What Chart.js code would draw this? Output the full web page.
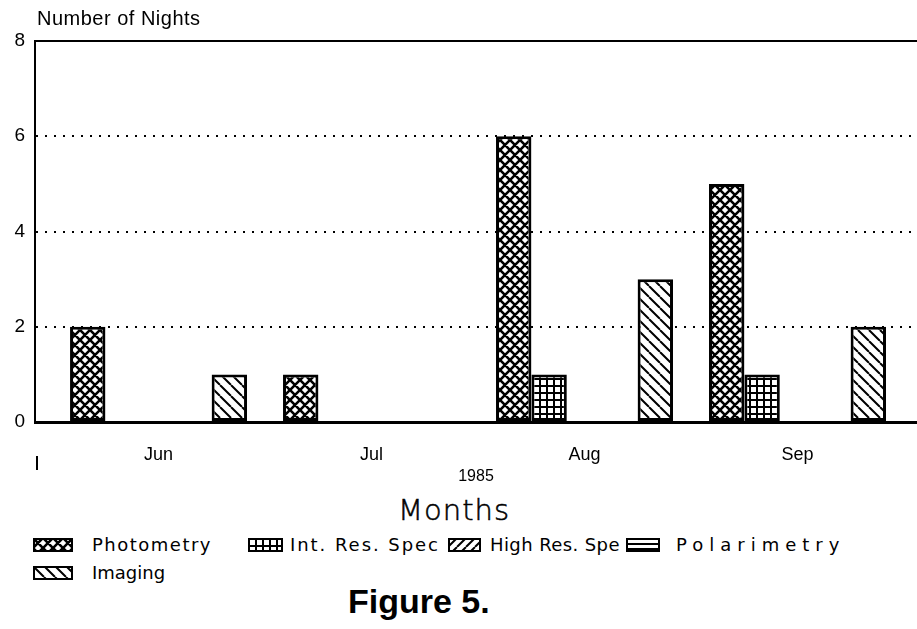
<!DOCTYPE html>
<html>
<head>
<meta charset="utf-8">
<script src="https://cdn.jsdelivr.net/npm/chart.js@4.4.0/dist/chart.umd.min.js"></script>
<style>
body{margin:0;background:#fff;width:917px;height:629px;overflow:hidden;position:relative;font-family:'Liberation Sans',Arial,sans-serif;color:#000}
#wrap{position:absolute;left:0;top:0;width:917px;height:486px}
.t{position:absolute;white-space:nowrap;line-height:1}
.sw{position:absolute}
</style>
</head>
<body>
<div id="wrap"><canvas id="myChart"></canvas></div>
<div class="t" style="left:37px;top:8px;font-size:20px;letter-spacing:0.5px">Number of Nights</div>
<div class="t" style="left:36px;top:456px;width:2px;height:14px;background:#000"></div>
<div class="t" style="left:398px;top:496px;font-family:'DejaVu Sans';font-weight:200;font-size:29px;letter-spacing:1px;-webkit-text-stroke:0.5px #000">Months</div>
<div id="legend"></div>
<div class="t" style="left:348px;top:584px;font-size:34px;font-weight:bold">Figure 5.</div>
<script>
var months = ['Jun', 'Jul', 'Aug', 'Sep'];
var seriesNames = ['Photometry', 'Int. Res. Spec', 'High Res. Spe', 'Polarimetry', 'Imaging'];
var photometry = [2, 1, 6, 5];
var intResSpec = [0, 0, 1, 1];
var highResSpec = [0, 0, 0, 0];
var polarimetry = [0, 0, 0, 0];
var imaging = [1, 0, 3, 2];
var yTicks = [0, 2, 4, 6, 8];

// hatch fills, drawn on a small tile
function makePattern(kind) {
  var s = {cross: 10, grid: 7, fwd: 9, horiz: 5, back: 11}[kind];
  var c = document.createElement('canvas');
  c.width = s; c.height = s;
  var g = c.getContext('2d');
  g.fillStyle = '#fff';
  g.fillRect(0, 0, s, s);
  g.strokeStyle = '#000';
  g.lineWidth = kind == 'cross' ? 2.6 : 2;
  g.beginPath();
  if (kind == 'grid') { g.moveTo(0, 1); g.lineTo(s, 1); g.moveTo(1, 0); g.lineTo(1, s); }
  if (kind == 'horiz') { g.moveTo(0, 1); g.lineTo(s, 1); }
  for (var k = -s; k <= s; k += s) {
    if (kind == 'cross' || kind == 'back') { g.moveTo(k, 0); g.lineTo(k + s, s); }
    if (kind == 'cross' || kind == 'fwd') { g.moveTo(k, s); g.lineTo(k + s, 0); }
  }
  g.stroke();
  return g.createPattern(c, 'repeat');
}

var kinds = ['cross', 'grid', 'fwd', 'horiz', 'back'];
var allValues = [photometry, intResSpec, highResSpec, polarimetry, imaging];

var datasets = [];
for (var i = 0; i < seriesNames.length; i++) {
  datasets.push({
    label: seriesNames[i],
    data: allValues[i].map(function (v, j) { return {x: j, y: v}; }),
    backgroundColor: makePattern(kinds[i]),
    borderColor: '#000',
    borderWidth: 3,
    borderSkipped: false
  });
}

// legend made by hand, same fills
var legendPos = [
  {box: 33, w: 40, text: 92, end: 212, top: 536},
  {box: 248, w: 35, text: 290, end: 440, top: 536},
  {box: 448, w: 33, text: 490, end: 620, top: 536},
  {box: 626, w: 34, text: 676, end: 873, top: 536},
  {box: 33, w: 40, text: 92, end: 163, top: 564}
];
var legFont = "18px 'DejaVu Sans', sans-serif";
var leg = document.getElementById('legend');
var meas = document.createElement('canvas').getContext('2d');
meas.font = legFont;
for (var i = 0; i < seriesNames.length; i++) {
  var p = legendPos[i];
  var cv = document.createElement('canvas');
  cv.width = p.w; cv.height = 14;
  cv.className = 'sw';
  cv.style.left = p.box + 'px';
  cv.style.top = (p.top + 2) + 'px';
  var g = cv.getContext('2d');
  g.fillStyle = makePattern(kinds[i]);
  g.fillRect(0, 0, p.w, 14);
  g.strokeStyle = '#000';
  g.lineWidth = 2;
  g.strokeRect(1, 1, p.w - 2, 12);
  leg.appendChild(cv);
  var t = document.createElement('div');
  t.className = 't';
  t.style.left = p.text + 'px';
  t.style.top = p.top + 'px';
  t.style.font = legFont;
  t.style.lineHeight = '1';
  var nat = meas.measureText(seriesNames[i]).width;
  var sp = Math.min(6, Math.max(0, (p.end - p.text - nat) / seriesNames[i].length));
  t.style.letterSpacing = sp.toFixed(2) + 'px';
  t.textContent = seriesNames[i];
  leg.appendChild(t);
}

Chart.defaults.font.family = "'Liberation Sans', Arial, sans-serif";
Chart.defaults.color = '#000';

var xMin = -0.58, xMax = 3.561;

new Chart(document.getElementById('myChart'), {
  type: 'bar',
  data: {datasets: datasets},
  options: {
    responsive: true,
    maintainAspectRatio: false,
    animation: false,
    layout: {padding: {top: 41, left: 0, right: 0, bottom: 0}},
    categoryPercentage: 0.831,
    barPercentage: 1,
    plugins: {legend: {display: false}, tooltip: {enabled: false}},
    scales: {
      x: {
        type: 'linear',
        offset: false,
        min: xMin,
        max: xMax,
        afterBuildTicks: function (s) { s.ticks = months.map(function (m, j) { return {value: j}; }); },
        afterFit: function (s) { s.height = 64; },
        grid: {display: false},
        border: {display: true, color: '#000', width: 3},
        ticks: {
          padding: 14,
          font: {size: 18},
          callback: function (v) { return months[v]; }
        },
        title: {display: true, text: '1985', font: {size: 16}, padding: {top: 0, bottom: 0}}
      },
      xTop: {
        type: 'linear',
        position: 'top',
        display: true,
        min: xMin,
        max: xMax,
        afterFit: function (s) { s.height = 0; },
        grid: {display: false},
        ticks: {display: false},
        border: {display: true, color: '#000', width: 2}
      },
      y: {
        min: 0,
        max: 8,
        afterBuildTicks: function (s) { s.ticks = yTicks.map(function (v) { return {value: v}; }); },
        afterFit: function (s) { s.width = 35; },
        grid: {
          drawTicks: false,
          lineWidth: 2,
          color: function (c) { return (c.tick && (c.tick.value == 0 || c.tick.value == 8)) ? 'rgba(0,0,0,0)' : '#000'; }
        },
        border: {display: true, color: '#000', width: 2, dash: [2, 7]},
        ticks: {padding: 10, font: {size: 19}}
      }
    }
  }
});
</script>
</body>
</html>
